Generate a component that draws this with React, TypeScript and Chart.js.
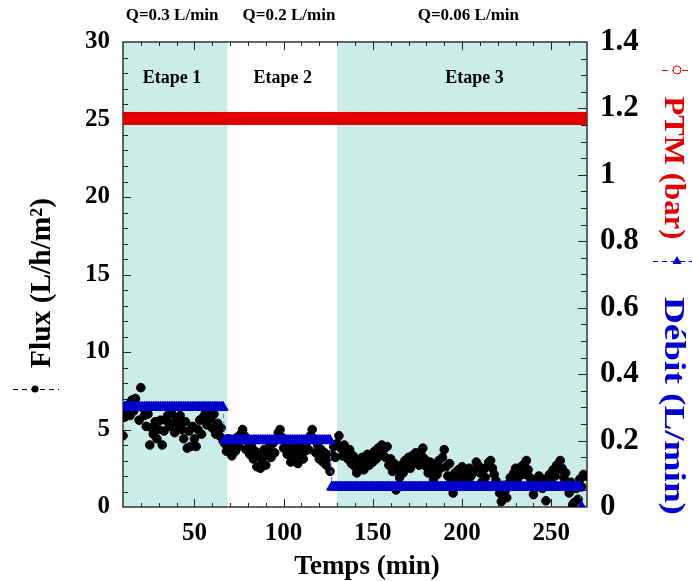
import { useEffect, useRef } from 'react';
import { Chart, registerables } from 'chart.js';

Chart.register(...registerables);

// ---------- data ----------
// Flux (L/h/m²), one sample per minute, per stage
const FLUX_STAGE1_T0 = 10;
const FLUX_STAGE1 = [
  4.6, 5.8, 6.3, 6.6, 5.9, 6.9, 6.2, 7.0, 6.5, 5.6,
  7.7, 6.4, 5.9, 5.2, 6.0, 4.0, 5.1, 4.7, 5.5, 4.4,
  5.0, 5.6, 4.0, 4.9, 5.6, 5.9, 5.2, 6.1, 5.4, 4.8,
  5.7, 5.3, 5.9, 5.0, 4.4, 5.5, 3.8, 4.9, 3.9, 5.2,
  4.4, 3.9, 5.0, 5.6, 4.7, 5.8, 6.0, 5.3, 6.3, 5.7,
  5.1, 6.0, 4.7, 5.4, 4.6, 5.1, 4.3,
];
const FLUX_STAGE2_T0 = 67;
const FLUX_STAGE2 = [
  4.1, 3.6, 4.4, 3.8, 3.3, 4.2, 3.6, 4.5, 3.9, 4.7,
  5.0, 4.6, 3.7, 4.2, 3.4, 3.9, 3.1, 3.6, 2.6, 3.3,
  2.5, 3.0, 3.7, 2.7, 3.4, 3.9, 3.2, 4.1, 3.5, 4.4,
  4.8, 5.0, 4.5, 3.8, 4.3, 3.4, 3.9, 2.9, 3.5, 3.0,
  3.8, 2.8, 3.3, 3.9, 3.1, 3.6, 4.2, 3.7, 4.6, 5.0,
  4.4, 3.5, 4.0, 3.1, 3.7, 2.9, 3.5, 2.7, 3.2, 2.3,
];
const FLUX_STAGE3_T0 = 127;
const FLUX_STAGE3 = [
  3.4, 3.9, 3.2, 4.1, 4.6, 3.8, 3.3, 4.0, 3.6, 3.1,
  3.7, 2.8, 3.3, 2.6, 2.2, 3.0, 2.5, 3.2, 2.4, 2.9,
  3.4, 2.7, 3.3, 2.9, 3.6, 3.1, 3.8, 3.5, 4.0, 3.7,
  3.2, 3.9, 2.7, 3.1, 2.3, 2.8, 1.1, 2.4, 1.9, 2.7,
  2.2, 3.0, 2.6, 3.2, 2.5, 3.3, 2.8, 3.5, 3.0, 2.7,
  3.4, 3.8, 3.1, 2.6, 2.2, 2.9, 2.4, 1.8, 2.7, 2.1,
  3.0, 2.5, 3.2, 3.7, 2.6, 2.0, 2.8, 1.7, 0.9, 2.2,
  1.6, 2.4, 1.9, 2.6, 1.5, 2.1, 1.7, 2.5, 2.0, 1.4,
  2.3, 2.9, 2.7, 2.2, 1.6, 2.4, 1.9, 2.6, 2.9, 3.0,
  2.5, 2.1, 1.7, 1.3, 0.9, 0.35, 1.4, 1.0, 0.6, 1.5,
  1.9, 1.6, 2.2, 2.5, 1.8, 2.3, 2.6, 2.1, 2.8, 3.0,
  2.4, 1.9, 1.4, 0.8, 1.7, 1.3, 2.0, 1.6, 1.2, 1.8,
  0.4, 1.5, 2.1, 1.7, 2.4, 2.0, 2.7, 2.4, 3.0, 2.5,
  1.9, 2.2, 1.4, 0.9, 1.6, 0.15, 0.3, 1.2, 0.5, 1.8,
  1.3, 2.1, 2.0,
];

// PTM (bar), constant over the run, one sample per minute
const PTM_T_START = 10;
const PTM_T_END = 269;
const PTM_VALUE = 1.17;

// Débit (L/min): stepwise levels, one sample per minute
const DEBIT_STEP_START = [11, 67, 127];
const DEBIT_STEP_END = [66, 126, 266];
const DEBIT_STEP_Q = [0.3, 0.2, 0.06];
const DEBIT_FINAL_T = 267;
const DEBIT_FINAL_Q = 0;

// shaded stages (min)
const SHADE_START = [10, 130];
const SHADE_END = [68.5, 270];
const STAGE_LABELS = ['Etape 1', 'Etape 2', 'Etape 3'];
const STAGE_LABEL_T = [37.5, 99.5, 207];
const Q_LABELS = ['Q=0.3 L/min', 'Q=0.2 L/min', 'Q=0.06 L/min'];
const Q_LABEL_T = [37.5, 103, 203.5];

const X_TICKS = [50, 100, 150, 200, 250];

// ---------- helpers ----------
const SERIF = '"Liberation Serif", "Times New Roman", serif';

function buildSeries(t0: number, vals: number[]) {
  return vals.map((v, i) => ({ x: t0 + i, y: v }));
}

const fluxData = [
  ...buildSeries(FLUX_STAGE1_T0, FLUX_STAGE1),
  ...buildSeries(FLUX_STAGE2_T0, FLUX_STAGE2),
  ...buildSeries(FLUX_STAGE3_T0, FLUX_STAGE3),
];

const ptmData: { x: number; y: number }[] = [];
for (let t = PTM_T_START; t <= PTM_T_END; t++) ptmData.push({ x: t, y: PTM_VALUE });

const debitData: { x: number; y: number }[] = [];
DEBIT_STEP_START.forEach((s, k) => {
  for (let t = s; t <= DEBIT_STEP_END[k]; t++) debitData.push({ x: t, y: DEBIT_STEP_Q[k] });
});
debitData.push({ x: DEBIT_FINAL_T, y: DEBIT_FINAL_Q });

function drawText(
  ctx: CanvasRenderingContext2D,
  text: string,
  x: number,
  y: number,
  o: { size: number; color: string; rot?: number; baseline?: CanvasTextBaseline; len?: number }
) {
  ctx.save();
  ctx.font = `bold ${o.size}px ${SERIF}`;
  ctx.fillStyle = o.color;
  ctx.textAlign = 'center';
  ctx.textBaseline = o.baseline || 'middle';
  ctx.translate(x, y);
  if (o.rot) ctx.rotate(o.rot);
  if (o.len) {
    const w = ctx.measureText(text).width;
    ctx.scale(o.len / w, 1);
  }
  ctx.fillText(text, 0, 0);
  ctx.restore();
}

const decorPlugin = {
  id: 'decor',
  beforeDatasetsDraw(chart: any) {
    const { ctx, chartArea } = chart;
    const { left, right, top, bottom } = chartArea;
    const xs = chart.scales.x;
    const ys = chart.scales.y;
    const ys2 = chart.scales.y2;
    ctx.save();
    // shaded stages
    ctx.fillStyle = '#ccece8';
    SHADE_START.forEach((s, i) => {
      const x0 = xs.getPixelForValue(s);
      const x1 = xs.getPixelForValue(SHADE_END[i]);
      ctx.fillRect(x0, top, x1 - x0, bottom - top);
    });
    // ticks
    ctx.strokeStyle = '#222';
    ctx.lineWidth = 1;
    ctx.beginPath();
    for (let t = 20; t < 270; t += 10) {
      const px = Math.round(xs.getPixelForValue(t)) + 0.5;
      const len = t % 50 === 0 ? 8 : 4;
      ctx.moveTo(px, bottom);
      ctx.lineTo(px, bottom - len);
      ctx.moveTo(px, top);
      ctx.lineTo(px, top + len);
    }
    for (let v = 1; v < 30; v++) {
      const py = Math.round(ys.getPixelForValue(v)) + 0.5;
      const len = v % 5 === 0 ? 8 : 5;
      ctx.moveTo(left, py);
      ctx.lineTo(left + len, py);
    }
    for (let k = 1; k < 28; k++) {
      const py = Math.round(ys2.getPixelForValue(k * 0.05)) + 0.5;
      const len = k % 4 === 0 ? 9 : 6;
      ctx.moveTo(right, py);
      ctx.lineTo(right - len, py);
    }
    ctx.stroke();
    // frame
    ctx.strokeStyle = '#333';
    ctx.lineWidth = 1.5;
    ctx.strokeRect(left, top, right - left, bottom - top);
    ctx.restore();
  },
  afterDraw(chart: any) {
    const { ctx } = chart;
    const xs = chart.scales.x;
    // stage labels and flow labels
    STAGE_LABELS.forEach((s, i) => {
      drawText(ctx, s, xs.getPixelForValue(STAGE_LABEL_T[i]), 78, { size: 18, color: '#000' });
    });
    Q_LABELS.forEach((s, i) => {
      drawText(ctx, s, xs.getPixelForValue(Q_LABEL_T[i]), 16, { size: 17, color: '#000' });
    });
    // axis titles
    drawText(ctx, 'Temps (min)', 367, 567, { size: 27, color: '#000' });
    drawText(ctx, 'Flux (L/h/m²)', 50, 283, { size: 30, color: '#000', rot: -Math.PI / 2, baseline: 'alphabetic', len: 170 });
    drawText(ctx, 'PTM (bar)', 665, 168, { size: 30, color: '#e00000', rot: Math.PI / 2, baseline: 'alphabetic', len: 143 });
    drawText(ctx, 'Débit (L/min)', 665, 406, { size: 30, color: '#0000cc', rot: Math.PI / 2, baseline: 'alphabetic', len: 218 });

    ctx.save();
    // flux legend symbol
    ctx.strokeStyle = '#000';
    ctx.lineWidth = 1;
    ctx.setLineDash([5, 4]);
    ctx.beginPath();
    ctx.moveTo(13, 389.5);
    ctx.lineTo(59, 389.5);
    ctx.stroke();
    ctx.setLineDash([]);
    ctx.fillStyle = '#000';
    ctx.beginPath();
    ctx.arc(35, 389, 3.5, 0, Math.PI * 2);
    ctx.fill();
    // PTM legend symbol
    ctx.strokeStyle = '#e00000';
    ctx.setLineDash([6, 4]);
    ctx.beginPath();
    ctx.moveTo(662, 70.5);
    ctx.lineTo(692, 70.5);
    ctx.stroke();
    ctx.setLineDash([]);
    ctx.fillStyle = '#fff';
    ctx.beginPath();
    ctx.arc(677, 70, 4, 0, Math.PI * 2);
    ctx.fill();
    ctx.stroke();
    // Débit legend symbol
    ctx.strokeStyle = '#0000cc';
    ctx.setLineDash([5, 4]);
    ctx.beginPath();
    ctx.moveTo(653, 261.5);
    ctx.lineTo(692, 261.5);
    ctx.stroke();
    ctx.setLineDash([]);
    ctx.fillStyle = '#0000cc';
    ctx.beginPath();
    ctx.moveTo(677, 256);
    ctx.lineTo(681.5, 264);
    ctx.lineTo(672.5, 264);
    ctx.closePath();
    ctx.fill();
    ctx.restore();
  },
};

export default function App() {
  const ref = useRef<HTMLCanvasElement>(null);
  useEffect(() => {
    document.body.style.margin = '0';
    const tickFont = (size: number) => ({ family: SERIF, size, weight: 'bold' as const });
    const chart = new Chart(ref.current as HTMLCanvasElement, {
      type: 'scatter',
      data: {
        datasets: [
          {
            label: 'Débit',
            data: debitData,
            yAxisID: 'y2',
            showLine: true,
            borderColor: '#5a78ff',
            borderWidth: 1,
            borderDash: [4, 3],
            pointStyle: 'triangle',
            pointRadius: 6,
            pointBackgroundColor: '#0000cc',
            pointBorderColor: '#0000cc',
            pointBorderWidth: 1,
          },
          {
            label: 'PTM',
            data: ptmData,
            yAxisID: 'y2',
            showLine: false,
            pointStyle: 'circle',
            pointRadius: 6,
            pointBackgroundColor: '#e00000',
            pointBorderColor: '#e00000',
          },
          {
            label: 'Flux',
            data: fluxData,
            yAxisID: 'y',
            showLine: false,
            pointStyle: 'circle',
            pointRadius: 4.3,
            pointBackgroundColor: '#000',
            pointBorderColor: '#000',
          },
        ],
      },
      options: {
        animation: false,
        responsive: false,
        devicePixelRatio: 1,
        layout: { padding: { top: 42, left: 0, right: 0, bottom: 0 } },
        plugins: { legend: { display: false }, tooltip: { enabled: false } },
        scales: {
          x: {
            type: 'linear',
            position: 'bottom',
            min: 10,
            max: 270,
            grid: { display: false, drawTicks: false },
            border: { display: false },
            afterBuildTicks: (s: any) => {
              s.ticks = X_TICKS.map((v) => ({ value: v }));
            },
            afterFit: (s: any) => {
              s.height = 74;
            },
            ticks: { font: tickFont(25), color: '#000', padding: 12, maxRotation: 0 },
          },
          y: {
            type: 'linear',
            position: 'left',
            min: 0,
            max: 30,
            grid: { display: false, drawTicks: false },
            border: { display: false },
            afterFit: (s: any) => {
              s.width = 123;
            },
            ticks: { stepSize: 5, font: tickFont(25), color: '#000', padding: 13 },
          },
          y2: {
            type: 'linear',
            position: 'right',
            min: 0,
            max: 1.4,
            grid: { display: false, drawTicks: false },
            border: { display: false },
            afterFit: (s: any) => {
              s.width = 105;
            },
            ticks: {
              stepSize: 0.2,
              font: tickFont(31),
              color: '#000',
              padding: 13,
              callback: (v: any) => String(Math.round(Number(v) * 10) / 10),
            },
          },
        },
      },
      plugins: [decorPlugin],
    });
    return () => chart.destroy();
  }, []);
  return (
    <div style={{ position: 'absolute', left: 0, top: 0, width: 692, height: 581 }}>
      <canvas ref={ref} width={692} height={581} style={{ width: 692, height: 581, display: 'block' }} />
    </div>
  );
}
